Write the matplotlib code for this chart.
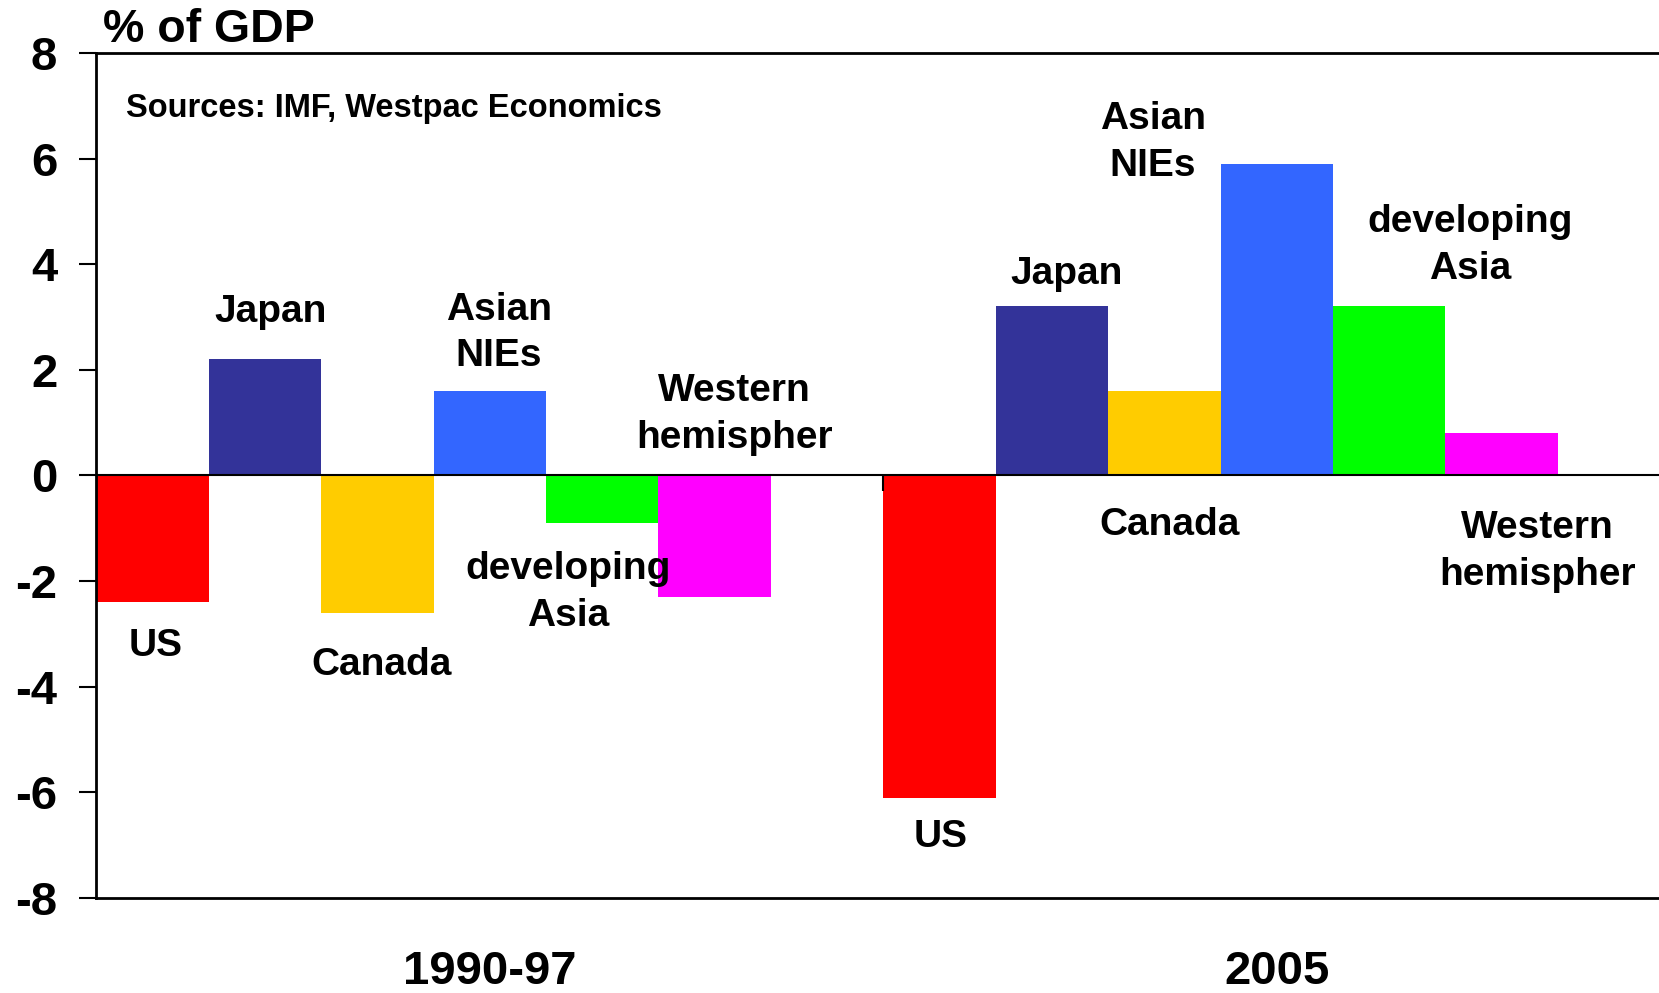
import numpy as np
import matplotlib
matplotlib.use('Agg')
import matplotlib.pyplot as plt

plt.rcParams['font.family'] = ['Liberation Sans', 'DejaVu Sans']
plt.rcParams['font.weight'] = 'bold'

periods = ['1990-97', '2005']
regions = ['US', 'Japan', 'Canada', 'Asian\nNIEs', 'developing\nAsia', 'Western\nhemispher']
colors = ['#FF0000', '#333399', '#FFCC00', '#3366FF', '#00FF00', '#FF00FF']
balance_1990_97 = [-2.4, 2.2, -2.6, 1.6, -0.9, -2.3]
balance_2005 = [-6.1, 3.2, 1.6, 5.9, 3.2, 0.8]

# label positions (bar slot units, % of GDP)
label_pos_1990_97 = [(0.53, -3.23), (1.55, 3.09), (2.54, -3.58), (3.58, 2.7), (4.2, -2.22), (5.68, 1.16)]
label_pos_2005 = [(7.51, -6.85), (8.63, 3.81), (9.55, -0.94), (9.40, 6.31), (12.22, 4.35), (12.82, -1.44)]

fig = plt.figure(figsize=(16.59, 9.93), dpi=100)
ax = fig.add_axes([0.058, 0.0957, 0.942, 0.851])

n = len(regions)
slot = n + 1  # one empty slot between the periods
for g, vals in enumerate([balance_1990_97, balance_2005]):
    x = np.arange(n) + g * slot + 0.5
    ax.bar(x, vals, width=1.0, color=colors, edgecolor='none', zorder=2)

for labels_pos in [label_pos_1990_97, label_pos_2005]:
    for name, (lx, ly) in zip(regions, labels_pos):
        ax.text(lx, ly, name, ha='center', va='center', fontsize=28,
                fontweight='bold', linespacing=1.38)

ax.axhline(0, color='black', lw=1.5, zorder=3)
ax.vlines([slot], 0, -0.3, color='black', lw=1.5, zorder=3)

ax.set_xlim(0, 13.9)
ax.set_ylim(-8, 8)
ax.set_yticks(np.arange(-8, 9, 2))
ax.set_yticklabels([str(v) for v in range(-8, 9, 2)])
ax.tick_params(axis='y', direction='out', length=12, width=1.5, pad=16, labelsize=34)
ax.set_xticks([])

for i, p in enumerate(periods):
    ax.text((i + 0.5) * slot, -9.4, p, ha='center', va='center', fontsize=34,
            fontweight='bold')

ax.spines['right'].set_visible(False)
for s in ['left', 'top', 'bottom']:
    ax.spines[s].set_linewidth(2)

ax.text(0.263, 6.95, 'Sources: IMF, Westpac Economics', ha='left', va='center',
        fontsize=23.5, fontweight='bold')
fig.text(0.0618, 0.958, '% of GDP', ha='left', va='baseline', fontsize=33.5,
         fontweight='bold')

fig.savefig('out.png', dpi=100)
